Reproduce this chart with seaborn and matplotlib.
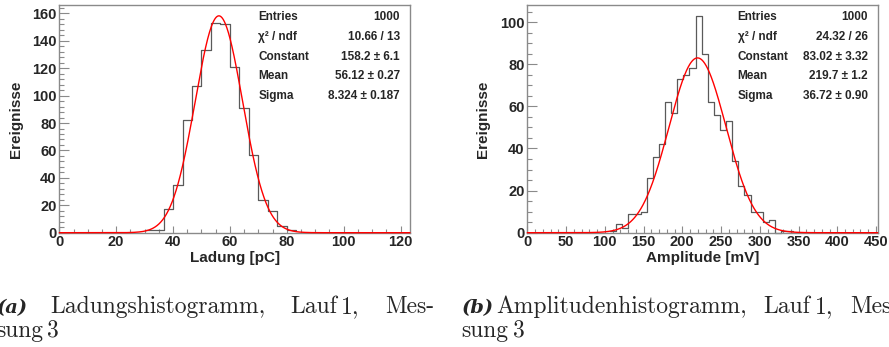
import numpy as np
import pandas as pd
import matplotlib
matplotlib.use("Agg")
import matplotlib.pyplot as plt
import seaborn as sns
from matplotlib.ticker import MultipleLocator

# ---------------- data ----------------
# (a) charge histogram: bins of width 10/3 pC starting at 30 pC
charge_bin_start = 30.0
charge_bin_width = 10.0 / 3.0
charge_counts = [2, 2, 17, 35, 82, 107, 133, 153, 152, 121, 91, 57, 24, 16, 5, 2]
charge_xmax = 123.33
charge_fit = [158.2, 56.12, 8.324]          # constant, mean, sigma
charge_stat_names = ["Entries", "χ² / ndf", "Constant", "Mean", "Sigma"]
charge_stat_values = ["1000", "10.66 / 13", "158.2 ± 6.1", "56.12 ± 0.27", "8.324 ± 0.187"]
charge_xticks = [0, 20, 40, 60, 80, 100, 120]
charge_yticks = [0, 20, 40, 60, 80, 100, 120, 140, 160]

# (b) amplitude histogram
amp_bin_start = 106.7
amp_bin_width = 7.89
amp_counts = [1, 4, 2, 9, 9, 10, 26, 36, 42, 62, 57, 73, 75, 78, 103, 85, 62,
              56, 49, 53, 34, 22, 18, 10, 10, 5, 6, 0, 1, 1]
amp_xmax = 452.2
amp_fit = [83.02, 219.7, 36.72]
amp_stat_names = ["Entries", "χ² / ndf", "Constant", "Mean", "Sigma"]
amp_stat_values = ["1000", "24.32 / 26", "83.02 ± 3.32", "219.7 ± 1.2", "36.72 ± 0.90"]
amp_xticks = [0, 50, 100, 150, 200, 250, 300, 350, 400, 450]
amp_yticks = [0, 20, 40, 60, 80, 100]

x_labels = ["Ladung [pC]", "Amplitude [mV]"]
y_label = "Ereignisse"

# ---------------- styling ----------------
sns.set_style("ticks")
plt.rcParams["font.family"] = ["Liberation Sans", "DejaVu Sans"]
plt.rcParams["font.weight"] = "bold"

W, H = 889, 347
fig = plt.figure(figsize=(W / 100, H / 100), dpi=100)


def fx(px):
    return px / W


def fy(py):
    return 1 - py / H


FRAME = "#8a8a8a"
HIST = "#5a5a5a"


def panel(x0, x1, y0, y1, start, width, counts, xmax, fit, xticks, yticks,
          xminor, yminor, xlabel, ylab_x, stat_names, stat_values, stat_lx, stat_rx):
    ax = fig.add_axes([fx(x0), fy(y1), fx(x1) - fx(x0), fy(y0) - fy(y1)])
    counts = [float(c) for c in counts]
    edges = [start + width * i for i in range(len(counts) + 1)]
    centers = [0.5 * (edges[i] + edges[i + 1]) for i in range(len(counts))]
    df = pd.DataFrame({"x": centers, "n": counts})
    sns.histplot(data=df, x="x", weights="n", bins=edges, element="step",
                 fill=False, color=HIST, linewidth=0.9, ax=ax, zorder=2)
    for art in list(ax.lines) + list(ax.patches) + list(ax.collections):
        art.set_clip_on(False)
    C, mu, sig = fit
    xs = np.linspace(0, xmax, 1500)
    ys = C * np.exp(-0.5 * ((xs - mu) / sig) ** 2)
    sns.lineplot(x=xs, y=ys, color="red", linewidth=1.0, ax=ax, zorder=3)
    ax.lines[-1].set_clip_on(False)

    ymax = 1.05 * max(C, max(counts))
    ax.set_xlim(0, xmax)
    ax.set_ylim(0, ymax)
    ax.set_xticks(xticks)
    ax.set_yticks(yticks)
    ax.xaxis.set_minor_locator(MultipleLocator(xminor))
    ax.yaxis.set_minor_locator(MultipleLocator(yminor))
    ax.tick_params(which="both", direction="in", top=False, right=False,
                   color=FRAME, width=0.8, labelsize=10.5, pad=2)
    ax.tick_params(axis="x", which="major", length=5)
    ax.tick_params(axis="x", which="minor", length=2.8)
    ax.tick_params(axis="y", which="major", length=7)
    ax.tick_params(axis="y", which="minor", length=3.6)
    for lab in ax.get_xticklabels() + ax.get_yticklabels():
        lab.set_fontweight("bold")
    for sp in ax.spines.values():
        sp.set_visible(True)
        sp.set_color(FRAME)
        sp.set_linewidth(1.0)
    ax.set_xlabel(xlabel, fontsize=11, fontweight="bold")
    ax.set_ylabel(y_label, fontsize=11, fontweight="bold")
    axw = x1 - x0
    axh = y1 - y0
    ax.xaxis.set_label_coords(0.5, (y1 - 251.0) / axh)
    ax.yaxis.set_label_coords((ylab_x - x0) / axw, 0.5)

    rows = [17.3, 37.0, 56.5, 76.0, 95.5]
    for name, val, ry in zip(stat_names, stat_values, rows):
        fig.text(fx(stat_lx), fy(ry), name, ha="left", va="center",
                 fontsize=8.5, fontweight="bold")
        fig.text(fx(stat_rx), fy(ry), val, ha="right", va="center",
                 fontsize=8.5, fontweight="bold")
    return ax


panel(59.3, 410.0, 5.0, 232.7, charge_bin_start, charge_bin_width, charge_counts,
      charge_xmax, charge_fit, charge_xticks, charge_yticks, 5, 4, x_labels[0],
      22.7, charge_stat_names, charge_stat_values, 258.3, 400.0)
panel(527.3, 877.7, 5.0, 232.7, amp_bin_start, amp_bin_width, amp_counts,
      amp_xmax, amp_fit, amp_xticks, amp_yticks, 10, 5, x_labels[1],
      490.0, amp_stat_names, amp_stat_values, 737.7, 867.7)

# ---------------- captions (justified LaTeX-style lines) ----------------
cap_fs = 17
rm = dict(family="cmr10", fontweight="normal", fontsize=cap_fs,
          ha="left", va="baseline")
bi = dict(family="DejaVu Serif", style="italic", fontweight="bold",
          fontsize=14, ha="left", va="baseline")
b1 = 313.3
b2 = 336.7

caption_a = [("(a)", -3.0, bi), ("Ladungshistogramm,", 50.0, rm), ("Lauf", 290.0, rm),
             ("1,", 340.8, rm), ("Mes-", 385.0, rm)]
caption_a2 = [("sung", -4.0, rm), ("3", 46.7, rm)]
caption_b = [("(b)", 461.7, bi), ("Amplitudenhistogramm,", 496.7, rm), ("Lauf", 763.8, rm),
             ("1,", 814.7, rm), ("Mes-", 850.0, rm)]
caption_b2 = [("sung", 461.7, rm), ("3", 512.6, rm)]

for words, base in [(caption_a, b1), (caption_a2, b2), (caption_b, b1), (caption_b2, b2)]:
    for txt, px, style in words:
        fig.text(fx(px), fy(base), txt, **style)

fig.savefig("out.png", dpi=100)
